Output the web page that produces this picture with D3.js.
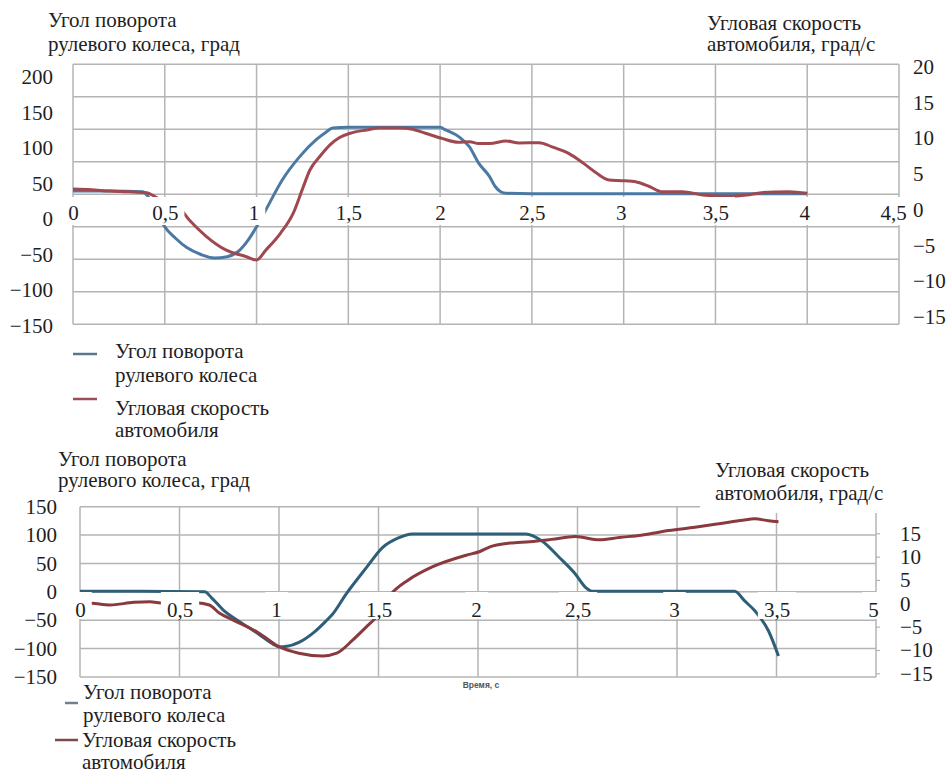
<!DOCTYPE html>
<html>
<head>
<meta charset="utf-8">
<script src="https://cdn.jsdelivr.net/npm/d3@7"></script>
<style>
  html body svg#chart text.serif { font-family: "Liberation Serif", "Tinos", "Times New Roman" !important; }
  html body svg#chart text.caption { font-family: "Liberation Sans", Arial !important; }
</style>
</head>
<body style="margin:0;background:#fff">
<svg id="chart" width="951" height="775" style="display:block"></svg>
<script>
// ---------- Upper test run ----------
const topTimeTicks  = [0, 0.5, 1, 1.5, 2, 2.5, 3, 3.5, 4, 4.5];
const topTimeLabels = ["0", "0,5", "1", "1,5", "2", "2,5", "3", "3,5", "4", "4,5"];
const topSteerTicks = [200, 150, 100, 50, 0, -50, -100, -150];
const topRateTicks  = [20, 15, 10, 5, 0, -5, -10, -15];

// steering-wheel angle, deg
const topSteerTime  = [0, 0.2, 0.38, 0.42, 0.46, 0.5, 0.56, 0.62, 0.7, 0.77, 0.84, 0.9, 0.95, 1.0, 1.06, 1.14, 1.235, 1.325, 1.38, 1.415, 1.5, 1.75, 2.0, 2.03, 2.105, 2.16, 2.21, 2.27, 2.3, 2.33, 2.36, 2.5, 3.0, 3.5, 4.0];
const topSteerAngle = [5, 5, 4, -8, -28, -50, -68, -82, -93, -98, -96, -88, -72, -50, -19, 22, 58, 84, 96, 102, 103, 103, 103, 99, 88, 73, 48, 27, 12, 4, 1.5, 1, 1, 1, 1];

// vehicle yaw rate, deg/s
const topRateTime = [0, 0.1, 0.2, 0.3, 0.4, 0.455, 0.49, 0.564, 0.635, 0.727, 0.835, 0.945, 1.0, 1.05, 1.13, 1.2, 1.25, 1.29, 1.35, 1.4, 1.45, 1.51, 1.6, 1.67, 1.78, 1.85, 1.92, 2.01, 2.1, 2.16, 2.21, 2.27, 2.36, 2.43, 2.54, 2.61, 2.7, 2.78, 2.85, 2.92, 2.99, 3.07, 3.14, 3.21, 3.32, 3.43, 3.57, 3.67, 3.75, 3.9, 4.0];
const topRate     = [0.8, 0.7, 0.5, 0.4, 0.25, -0.5, -1.1, -1.7, -4, -6.5, -8.6, -9.6, -10.1, -8.6, -6, -2.9, 0.8, 3.7, 6.0, 7.6, 8.7, 9.4, 9.9, 10.2, 10.2, 10.0, 9.4, 8.6, 8.0, 8.1, 7.8, 7.8, 8.2, 7.9, 7.95, 7.3, 6.3, 4.8, 3.3, 2.2, 2.1, 1.9, 1.2, 0.4, 0.4, -0.1, -0.3, -0.1, 0.25, 0.4, 0.15];

// ---------- Lower test run ----------
const lowTimeTicks  = [0, 0.5, 1, 1.5, 2, 2.5, 3, 3.5, 4];
const lowTimeLabels = ["0", "0,5", "1", "1,5", "2", "2,5", "3", "3,5", "5"];
const lowSteerTicks = [150, 100, 50, 0, -50, -100, -150];
const lowRateTicks  = [15, 10, 5, 0, -5, -10, -15];

const lowSteerTime  = [0, 0.3, 0.627, 0.66, 0.72, 0.8, 0.9, 0.97, 1.0, 1.04, 1.1, 1.18, 1.237, 1.27, 1.337, 1.44, 1.52, 1.6, 1.67, 2.0, 2.24, 2.32, 2.41, 2.49, 2.54, 2.58, 3.0, 3.29, 3.34, 3.39, 3.46, 3.51];
const lowSteerAngle = [1, 1, 0, -10, -32, -52, -75, -92, -97, -96, -89, -70, -51, -39, -4, 43, 78, 95, 102, 102, 102, 90, 60, 31, 8, 1, 1, 1, -16, -33, -69, -113];

const lowRateTime = [0, 0.06, 0.15, 0.27, 0.35, 0.42, 0.5, 0.585, 0.65, 0.70, 0.77, 0.9, 1.0, 1.1, 1.22, 1.29, 1.37, 1.44, 1.49, 1.56, 1.65, 1.77, 1.94, 2.01, 2.06, 2.16, 2.26, 2.37, 2.49, 2.61, 2.71, 2.82, 2.96, 3.09, 3.22, 3.33, 3.39, 3.46, 3.51];
const lowRate     = [0.1, 0.0, -0.36, 0.2, 0.34, 0.0, 0.2, 0.13, -0.36, -2.1, -3.6, -6.4, -9.3, -10.7, -11.3, -10.7, -7.9, -5.0, -2.9, 1.8, 5.0, 7.8, 10.3, 11.1, 12.1, 12.9, 13.2, 13.7, 14.3, 13.6, 14.1, 14.6, 15.6, 16.3, 17.1, 17.8, 18.1, 17.7, 17.5];

// ---------- Shared texts ----------
const steerTitle  = ["Угол поворота", "рулевого колеса, град"];
const rateTitle   = ["Угловая скорость", "автомобиля, град/с"];
const legendSteer = ["Угол поворота", "рулевого колеса"];
const legendRate  = ["Угловая скорость", "автомобиля"];
const timeCaption = "Время, с";

const SERIF = '"Liberation Serif"';
const FS = 21;
const GRID = "#b4b4b4";
const INK = "#1e1e1e";

const svg = d3.select("#chart");

// serif face applied on every text element as soon as it is made
function serif(sel) {
  return sel.classed("serif", true).style("font-family", SERIF)
    .attr("font-family", "Liberation Serif").attr("font-size", FS).attr("fill", INK);
}

function multiline(g, lines, x, baselines) {
  lines.forEach((t, i) => {
    serif(g.append("text").attr("x", x).attr("y", baselines[i])).text(t);
  });
}

function drawPanel(p) {
  const g = svg.append("g");
  const x = d3.scaleLinear().domain(p.xDomain).range(p.xRange);
  const ySteer = d3.scaleLinear().domain(p.steerDomain).range(p.steerRange);
  const yRate = d3.scaleLinear().domain(p.rateDomain).range(p.rateRange);
  const yGrid = d3.scaleLinear().domain(p.gridDomain).range(p.gridRange);

  // grid
  const grid = g.append("g").attr("stroke", GRID).attr("stroke-width", 1.5).attr("fill", "none");
  grid.selectAll("line.h").data(p.gridValues).join("line")
    .attr("class", "h")
    .attr("x1", x(p.xDomain[0])).attr("x2", x(p.xDomain[1]))
    .attr("y1", d => yGrid(d)).attr("y2", d => yGrid(d));
  grid.selectAll("line.v").data(p.timeTicks).join("line")
    .attr("class", "v")
    .attr("x1", d => x(d)).attr("x2", d => x(d))
    .attr("y1", yGrid(p.gridDomain[1])).attr("y2", yGrid(p.gridDomain[0]));

  // series
  const steerLine = d3.line().x(d => x(d[0])).y(d => ySteer(d[1])).curve(d3.curveMonotoneX);
  const rateLine = d3.line().x(d => x(d[0])).y(d => yRate(d[1])).curve(d3.curveMonotoneX);
  g.append("path").datum(d3.zip(p.steerTime, p.steer))
    .attr("d", steerLine).attr("fill", "none")
    .attr("stroke", p.steerColor).attr("stroke-width", 3).attr("stroke-linejoin", "round");
  g.append("path").datum(d3.zip(p.rateTime, p.rate))
    .attr("d", rateLine).attr("fill", "none")
    .attr("stroke", p.rateColor).attr("stroke-width", 3).attr("stroke-linejoin", "round");

  // right-axis title sits on a white box that covers the grid corner
  if (p.rateTitleBox) {
    const b = p.rateTitleBox;
    g.append("rect").attr("x", b[0]).attr("y", b[1]).attr("width", b[2]).attr("height", b[3]).attr("fill", "#fff");
  }
  if (p.rightTicksX !== undefined) {
    const ra = g.append("g").attr("transform", `translate(${p.rightTicksX},0)`)
      .call(d3.axisRight(yRate).tickValues(p.rateTicks).tickSize(4).tickFormat(""));
    ra.select(".domain").remove();
    ra.selectAll("line").attr("stroke", GRID).attr("stroke-width", 1.2);
  }

  // time axis labels with opaque boxes
  const xa = g.append("g").attr("transform", `translate(0,${p.xLabelBaseline})`)
    .call(d3.axisBottom(x).tickValues(p.timeTicks).tickSize(0).tickPadding(0)
      .tickFormat((d, i) => p.timeLabels[i]));
  xa.select(".domain").remove();
  xa.attr("font-family", "Liberation Serif").attr("font-size", FS);
  serif(xa.selectAll("text")).attr("dy", 0).attr("y", 0)
    .attr("dx", (d, i) => (p.xLabelShift && p.xLabelShift[i]) || 0);
  xa.selectAll(".tick").each(function () {
    const t = d3.select(this).select("text");
    const bb = t.node().getBBox();
    d3.select(this).insert("rect", "text")
      .attr("x", bb.x - 6).attr("width", bb.width + 12)
      .attr("y", p.xBox[0] - p.xLabelBaseline).attr("height", p.xBox[1] - p.xBox[0])
      .attr("fill", "#fff");
  });

  // value axes
  const la = g.append("g").attr("transform", `translate(${p.leftLabelX},0)`)
    .call(d3.axisLeft(d3.scaleLinear().domain(p.steerLabelDomain).range(p.steerLabelRange))
      .tickValues(p.steerTicks).tickSize(0).tickPadding(0));
  la.select(".domain").remove();
  la.attr("font-family", "Liberation Serif").attr("font-size", FS);
  serif(la.selectAll("text"));

  const rAx = g.append("g").attr("transform", `translate(${p.rightLabelX},0)`)
    .call(d3.axisRight(d3.scaleLinear().domain(p.rateLabelDomain).range(p.rateLabelRange))
      .tickValues(p.rateTicks).tickSize(0).tickPadding(0));
  rAx.select(".domain").remove();
  rAx.attr("font-family", "Liberation Serif").attr("font-size", FS);
  serif(rAx.selectAll("text"));

  // axis titles
  multiline(g, steerTitle, p.steerTitle[0], p.steerTitle.slice(1));
  multiline(g, rateTitle, p.rateTitle[0], p.rateTitle.slice(1));

  // legend
  const lg = g.append("g");
  lg.append("line").attr("x1", p.legSteer.line[0]).attr("x2", p.legSteer.line[1])
    .attr("y1", p.legSteer.line[2]).attr("y2", p.legSteer.line[2])
    .attr("stroke", p.legSteerColor).attr("stroke-width", 2.5);
  multiline(lg, legendSteer, p.legSteer.text[0], p.legSteer.text.slice(1));
  lg.append("line").attr("x1", p.legRate.line[0]).attr("x2", p.legRate.line[1])
    .attr("y1", p.legRate.line[2]).attr("y2", p.legRate.line[2])
    .attr("stroke", p.legRateColor).attr("stroke-width", 2.5);
  multiline(lg, legendRate, p.legRate.text[0], p.legRate.text.slice(1));

  if (p.caption) {
    g.append("text").attr("class", "caption")
      .attr("x", p.caption[0]).attr("y", p.caption[1])
      .attr("text-anchor", "middle")
      .style("font-family", '"Liberation Sans"')
      .attr("font-size", 8.5).attr("font-weight", "bold").attr("fill", "#555")
      .text(timeCaption);
  }
}

// upper panel
drawPanel({
  xDomain: [0, 4.5], xRange: [73, 899],
  timeTicks: topTimeTicks, timeLabels: topTimeLabels,
  gridDomain: [-200, 200], gridRange: [324.3, 64.3], gridValues: d3.range(-200, 201, 50),
  steerDomain: [-200, 200], steerRange: [324.3, 64.3],
  rateDomain: [-20, 20], rateRange: [324.3, 64.3],
  steerTime: topSteerTime, steer: topSteerAngle,
  rateTime: topRateTime, rate: topRate,
  steerColor: "#4a7aa3", rateColor: "#a04850",
  steerTicks: topSteerTicks, rateTicks: topRateTicks,
  steerLabelDomain: [-150, 200], steerLabelRange: [325.7, 76.7], leftLabelX: 53,
  rateLabelDomain: [-15, 20], rateLabelRange: [316.7, 66.7], rightLabelX: 913,
  xLabelBaseline: 220, xBox: [197, 225],
  xLabelShift: [0, 0, -3, 0, 0, 0, -3, 0, -3, -6],
  steerTitle: [48, 27.3, 50.7], rateTitle: [707, 30, 50.7],
  legSteer: { line: [73, 97, 354], text: [115, 358.3, 381.7] },
  legRate: { line: [73, 97, 399], text: [115, 415, 436.7] },
  legSteerColor: "#56788f", legRateColor: "#9a4e55"
});

// lower panel
drawPanel({
  xDomain: [0, 4], xRange: [80, 876],
  timeTicks: lowTimeTicks, timeLabels: lowTimeLabels,
  gridDomain: [-150, 150], gridRange: [677, 506.7], gridValues: d3.range(-150, 151, 50),
  steerDomain: [-150, 150], steerRange: [677, 506.7],
  rateDomain: [-15, 15], rateRange: [673.3, 533.3],
  steerTime: lowSteerTime, steer: lowSteerAngle,
  rateTime: lowRateTime, rate: lowRate,
  steerColor: "#2f5f78", rateColor: "#8a3a3f",
  steerTicks: lowSteerTicks, rateTicks: lowRateTicks,
  steerLabelDomain: [-150, 150], steerLabelRange: [677, 506.7], leftLabelX: 57,
  rateLabelDomain: [-15, 15], rateLabelRange: [673.3, 533.3], rightLabelX: 900,
  rightTicksX: 876,
  rateTitleBox: [700, 450, 200, 63],
  xLabelBaseline: 617, xBox: [592, 619],
  xLabelShift: [0, 0, -3, 0, -2, 0, -3, 0, -3],
  steerTitle: [58, 466, 486.7], rateTitle: [715, 476.7, 500],
  legSteer: { line: [65, 78, 703], text: [83, 699, 722] },
  legRate: { line: [55, 78, 740], text: [82, 747, 769] },
  legSteerColor: "#6f8290", legRateColor: "#7d4a4c",
  caption: [481, 688]
});
</script>
</body>
</html>
